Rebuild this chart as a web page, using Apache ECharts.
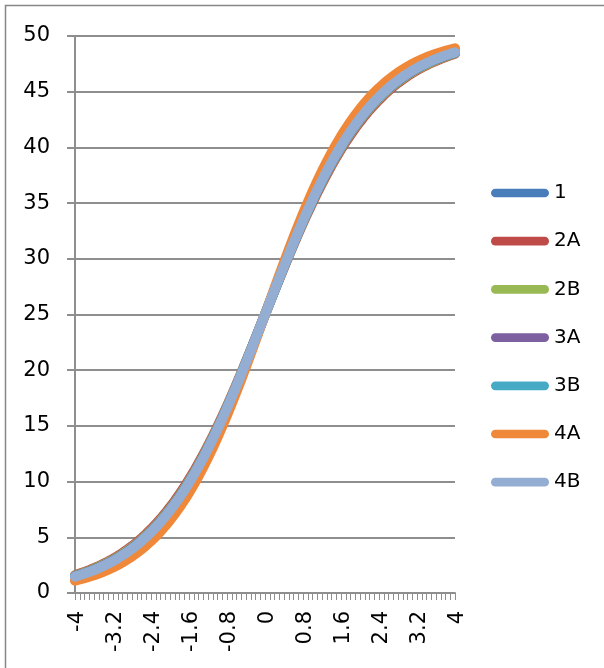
<!DOCTYPE html>
<html>
<head>
<meta charset="utf-8">
<title>Curves</title>
<script src="https://cdn.jsdelivr.net/npm/echarts@6/dist/echarts.min.js"></script>
<style>
  html, body { margin: 0; padding: 0; background: #fff; }
  #chart { width: 604px; height: 668px; }
</style>
</head>
<body>
<div id="chart"></div>
<script>
// x positions (every 0.1 from -4 to 4)
const categories = [
  '-4','-3.9','-3.8','-3.7','-3.6','-3.5','-3.4','-3.3','-3.2','-3.1',
  '-3','-2.9','-2.8','-2.7','-2.6','-2.5','-2.4','-2.3','-2.2','-2.1',
  '-2','-1.9','-1.8','-1.7','-1.6','-1.5','-1.4','-1.3','-1.2','-1.1',
  '-1','-0.9','-0.8','-0.7','-0.6','-0.5','-0.4','-0.3','-0.2','-0.1',
  '0','0.1','0.2','0.3','0.4','0.5','0.6','0.7','0.8','0.9',
  '1','1.1','1.2','1.3','1.4','1.5','1.6','1.7','1.8','1.9',
  '2','2.1','2.2','2.3','2.4','2.5','2.6','2.7','2.8','2.9',
  '3','3.1','3.2','3.3','3.4','3.5','3.6','3.7','3.8','3.9','4'
];

const seriesNames = ['1', '2A', '2B', '3A', '3B', '4A', '4B'];
const seriesColors = ['#4A7EBB', '#BE4B48', '#98B954', '#7D60A0', '#46AAC5', '#F0883A', '#93ADD3'];

const s1 = [
  1.47,1.60,1.74,1.89,2.06,2.24,2.43,2.64,2.87,3.11,
  3.38,3.66,3.97,4.30,4.66,5.04,5.46,5.90,6.37,6.87,
  7.40,7.97,8.57,9.21,9.89,10.60,11.35,12.14,12.96,13.82,
  14.71,15.64,16.59,17.57,18.58,19.62,20.67,21.74,22.82,23.91,
  25.00,26.09,27.18,28.26,29.33,30.38,31.42,32.43,33.41,34.36,
  35.29,36.18,37.04,37.86,38.65,39.40,40.11,40.79,41.43,42.03,
  42.60,43.13,43.63,44.10,44.54,44.96,45.34,45.70,46.03,46.34,
  46.62,46.89,47.13,47.36,47.57,47.76,47.94,48.11,48.26,48.40,48.53
];
const s2A = [
  1.60,1.74,1.89,2.05,2.23,2.41,2.62,2.83,3.07,3.33,
  3.60,3.90,4.21,4.55,4.92,5.31,5.73,6.18,6.65,7.16,
  7.70,8.27,8.88,9.51,10.19,10.89,11.64,12.42,13.23,14.07,
  14.95,15.86,16.79,17.76,18.75,19.75,20.78,21.82,22.87,23.94,
  25.00,26.06,27.13,28.18,29.22,30.25,31.25,32.24,33.21,34.14,
  35.05,35.93,36.77,37.58,38.36,39.11,39.81,40.49,41.12,41.73,
  42.30,42.84,43.35,43.82,44.27,44.69,45.08,45.45,45.79,46.10,
  46.40,46.67,46.93,47.17,47.38,47.59,47.77,47.95,48.11,48.26,48.40
];
const s2B = [
  1.55,1.69,1.83,1.99,2.16,2.35,2.55,2.76,2.99,3.24,
  3.51,3.80,4.11,4.44,4.80,5.18,5.60,6.04,6.51,7.02,
  7.55,8.12,8.72,9.36,10.04,10.75,11.50,12.28,13.10,13.95,
  14.83,15.75,16.69,17.66,18.66,19.68,20.72,21.78,22.84,23.92,
  25.00,26.08,27.16,28.22,29.28,30.32,31.34,32.34,33.31,34.25,
  35.17,36.05,36.90,37.72,38.50,39.25,39.96,40.64,41.28,41.88,
  42.45,42.98,43.49,43.96,44.40,44.82,45.20,45.56,45.89,46.20,
  46.49,46.76,47.01,47.24,47.45,47.65,47.84,48.01,48.17,48.31,48.45
];
const s3A = [
  1.50,1.64,1.78,1.93,2.10,2.28,2.48,2.69,2.92,3.16,
  3.43,3.72,4.03,4.36,4.72,5.10,5.52,5.96,6.43,6.93,
  7.46,8.03,8.63,9.27,9.95,10.66,11.41,12.20,13.02,13.87,
  14.76,15.68,16.63,17.60,18.61,19.64,20.69,21.75,22.83,23.91,
  25.00,26.09,27.17,28.25,29.31,30.36,31.39,32.40,33.37,34.32,
  35.24,36.13,36.98,37.80,38.59,39.34,40.05,40.73,41.37,41.97,
  42.54,43.07,43.57,44.04,44.48,44.90,45.28,45.64,45.97,46.28,
  46.57,46.84,47.08,47.31,47.52,47.72,47.90,48.07,48.22,48.36,48.50
];
const s3B = [
  1.47,1.60,1.74,1.89,2.06,2.24,2.43,2.64,2.87,3.11,
  3.38,3.66,3.97,4.30,4.66,5.04,5.46,5.90,6.37,6.87,
  7.40,7.97,8.57,9.21,9.89,10.60,11.35,12.14,12.96,13.82,
  14.71,15.64,16.59,17.57,18.58,19.62,20.67,21.74,22.82,23.91,
  25.00,26.09,27.18,28.26,29.33,30.38,31.42,32.43,33.41,34.36,
  35.29,36.18,37.04,37.86,38.65,39.40,40.11,40.79,41.43,42.03,
  42.60,43.13,43.63,44.10,44.54,44.96,45.34,45.70,46.03,46.34,
  46.62,46.89,47.13,47.36,47.57,47.76,47.94,48.11,48.26,48.40,48.53
];
const s4A = [
  1.10,1.21,1.33,1.46,1.59,1.75,1.91,2.10,2.29,2.51,
  2.75,3.01,3.28,3.59,3.92,4.28,4.66,5.08,5.52,6.01,
  6.53,7.09,7.68,8.32,9.00,9.72,10.48,11.29,12.14,13.03,
  13.96,14.94,15.95,17.00,18.08,19.18,20.32,21.47,22.64,23.82,
  25.00,26.18,27.36,28.53,29.68,30.82,31.92,33.00,34.05,35.06,
  36.04,36.97,37.86,38.71,39.52,40.28,41.00,41.68,42.32,42.91,
  43.47,43.99,44.48,44.92,45.34,45.72,46.08,46.41,46.72,46.99,
  47.25,47.49,47.71,47.90,48.09,48.25,48.41,48.54,48.67,48.79,48.90
];
const s4B = [
  1.47,1.60,1.74,1.89,2.06,2.24,2.43,2.64,2.87,3.11,
  3.38,3.66,3.97,4.30,4.66,5.04,5.46,5.90,6.37,6.87,
  7.40,7.97,8.57,9.21,9.89,10.60,11.35,12.14,12.96,13.82,
  14.71,15.64,16.59,17.57,18.58,19.62,20.67,21.74,22.82,23.91,
  25.00,26.09,27.18,28.26,29.33,30.38,31.42,32.43,33.41,34.36,
  35.29,36.18,37.04,37.86,38.65,39.40,40.11,40.79,41.43,42.03,
  42.60,43.13,43.63,44.10,44.54,44.96,45.34,45.70,46.03,46.34,
  46.62,46.89,47.13,47.36,47.57,47.76,47.94,48.11,48.26,48.40,48.53
];

const seriesValues = [s1, s2A, s2B, s3A, s3B, s4A, s4B];

const FONT = 'DejaVu Sans';
const AXIS_GREY = '#8E8E8E';

// legend swatch: a bar with fully rounded ends
const LEGEND_ICON = 'path://M4.5,0 H55.5 A4.5,4.5 0 0 1 55.5,9 H4.5 A4.5,4.5 0 0 1 4.5,0 Z';

const chart = echarts.init(document.getElementById('chart'), null, { renderer: 'canvas' });

chart.setOption({
  animation: false,
  backgroundColor: '#fff',
  color: seriesColors,
  graphic: [{
    type: 'polyline',
    silent: true,
    shape: { points: [[5.5, 668], [5.5, 5.5], [604, 5.5]] },
    style: { stroke: '#868686', lineWidth: 1.5, fill: null }
  }],
  grid: { left: 75, top: 36, right: 149, bottom: 75, containLabel: false },
  legend: {
    orient: 'vertical',
    left: 491,
    top: 181,
    padding: 0,
    itemWidth: 58,
    itemHeight: 9,
    itemGap: 24.2,
    icon: LEGEND_ICON,
    textStyle: { fontFamily: FONT, fontSize: 20, color: '#000', lineHeight: 24 },
    data: seriesNames
  },
  xAxis: {
    type: 'category',
    data: categories,
    boundaryGap: false,
    axisLine: { lineStyle: { color: AXIS_GREY, width: 2 } },
    axisTick: { show: true, interval: 0, length: 7, lineStyle: { color: AXIS_GREY, width: 1 } },
    axisLabel: {
      interval: 7,
      rotate: 90,
      margin: 18,
      fontFamily: FONT,
      fontSize: 21,
      color: '#000',
      verticalAlign: 'top',
      lineHeight: 6
    },
    splitLine: { show: false }
  },
  yAxis: {
    type: 'value',
    min: 0,
    max: 50,
    interval: 5,
    axisLine: { show: true, lineStyle: { color: AXIS_GREY, width: 2 } },
    axisTick: { show: true, length: 8, lineStyle: { color: AXIS_GREY, width: 2 } },
    axisLabel: { margin: 25, fontFamily: FONT, fontSize: 21, color: '#000' },
    splitLine: { show: true, lineStyle: { color: AXIS_GREY, width: 2 } }
  },
  series: seriesNames.map((name, i) => ({
    name: name,
    type: 'line',
    data: seriesValues[i],
    showSymbol: false,
    symbol: 'none',
    smooth: false,
    lineStyle: { width: 10, color: seriesColors[i], cap: 'round', join: 'round' },
    itemStyle: { color: seriesColors[i] },
    emphasis: { disabled: true }
  }))
});
</script>
</body>
</html>
